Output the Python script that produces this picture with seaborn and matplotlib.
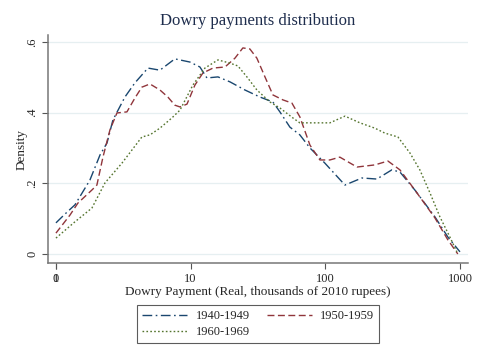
import numpy as np
import pandas as pd
import matplotlib
matplotlib.use("Agg")
import matplotlib.pyplot as plt
import seaborn as sns

# x on log10 scale of dowry payment (thousands of 2010 rupees), y = kernel density
x_40 = [0.000, 0.067, 0.141, 0.252, 0.327, 0.379, 0.423, 0.512, 0.586, 0.683, 0.772,
        0.883, 0.995, 1.069, 1.121, 1.203, 1.292, 1.403, 1.515, 1.611, 1.663, 1.737,
        1.811, 1.886, 1.997, 2.146, 2.272, 2.383, 2.494, 2.554, 2.665, 2.814, 2.910, 3.000]
y_40 = [0.088, 0.113, 0.139, 0.209, 0.280, 0.314, 0.379, 0.444, 0.484, 0.526, 0.520,
        0.552, 0.543, 0.529, 0.498, 0.501, 0.487, 0.464, 0.444, 0.430, 0.402, 0.359,
        0.337, 0.300, 0.257, 0.195, 0.215, 0.212, 0.238, 0.232, 0.181, 0.105, 0.048, 0.006]

x_50 = [0.000, 0.104, 0.163, 0.267, 0.304, 0.349, 0.401, 0.453, 0.527, 0.586, 0.638,
        0.698, 0.772, 0.831, 0.883, 0.921, 0.973, 1.032, 1.091, 1.166, 1.255, 1.329,
        1.388, 1.440, 1.492, 1.552, 1.611, 1.685, 1.752, 1.811, 1.886, 1.960, 2.034,
        2.108, 2.235, 2.368, 2.465, 2.554, 2.665, 2.814, 2.910, 2.984]
y_50 = [0.059, 0.110, 0.144, 0.181, 0.195, 0.274, 0.351, 0.399, 0.402, 0.441, 0.472,
        0.481, 0.464, 0.444, 0.421, 0.416, 0.424, 0.478, 0.512, 0.526, 0.529, 0.554,
        0.583, 0.580, 0.554, 0.501, 0.450, 0.436, 0.427, 0.388, 0.308, 0.266, 0.266,
        0.274, 0.246, 0.252, 0.263, 0.238, 0.181, 0.102, 0.040, 0.000]

x_60 = [0.000, 0.141, 0.267, 0.364, 0.490, 0.638, 0.698, 0.772, 0.861, 0.921, 1.017,
        1.106, 1.203, 1.292, 1.351, 1.418, 1.492, 1.589, 1.663, 1.759, 1.811, 1.923,
        2.034, 2.146, 2.257, 2.368, 2.442, 2.539, 2.628, 2.702, 2.777, 2.851, 2.925, 2.977]
y_60 = [0.045, 0.091, 0.130, 0.201, 0.257, 0.331, 0.337, 0.356, 0.385, 0.407, 0.478,
        0.526, 0.549, 0.540, 0.532, 0.501, 0.464, 0.430, 0.413, 0.385, 0.371, 0.371,
        0.371, 0.390, 0.371, 0.356, 0.342, 0.331, 0.286, 0.238, 0.173, 0.105, 0.048, 0.006]

cohorts = ["1940-1949", "1950-1959", "1960-1969"]
xtick_pos = [0, 1, 2, 3]
xtick_labels = ["1", "10", "100", "1000"]
ytick_pos = [0, 0.2, 0.4, 0.6]
ytick_labels = ["0", ".2", ".4", ".6"]

df = pd.concat([
    pd.DataFrame({"x": x_40, "y": y_40, "cohort": cohorts[0]}),
    pd.DataFrame({"x": x_50, "y": y_50, "cohort": cohorts[1]}),
    pd.DataFrame({"x": x_60, "y": y_60, "cohort": cohorts[2]}),
])

sns.set_style("white")
plt.rcParams["font.family"] = ["Liberation Serif", "DejaVu Serif"]

palette = {cohorts[0]: "#1a476f", cohorts[1]: "#90353b", cohorts[2]: "#55752f"}
dashes = {cohorts[0]: (7, 2.5, 1.2, 2.5), cohorts[1]: (5, 2.5), cohorts[2]: (1.2, 1.6)}

fig = plt.figure(figsize=(4.81, 3.61), dpi=100)
ax = fig.add_axes([0.0998, 0.2715, 0.873, 0.6315])

sns.lineplot(data=df, x="x", y="y", hue="cohort", style="cohort", palette=palette,
             dashes=dashes, linewidth=1.0, ax=ax, legend=False, sort=False)

ax.set_xlim(-0.059, 3.059)
ax.set_ylim(-0.0255, 0.6195)
ax.set_xticks(xtick_pos, xtick_labels)
# the "0" label sits on top of the "1" label, as in the original
ax.xaxis.remove_overlapping_locs = False
ax.set_xticks([0], ["0"], minor=True)
ax.set_yticks(ytick_pos, ytick_labels)
for t in ax.get_yticklabels():
    t.set_rotation(90)
    t.set_va("center")
ax.tick_params(axis="both", which="both", labelsize=9, length=4, width=0.8, color="#555555",
               direction="out", pad=3, left=True, bottom=True)
ax.grid(axis="y", color="#e6eff1", linewidth=0.9)
ax.grid(axis="x", which="both", visible=False)
for s in ["top", "right"]:
    ax.spines[s].set_visible(False)
for s in ["left", "bottom"]:
    ax.spines[s].set_color("#777777")
    ax.spines[s].set_linewidth(1.1)

ax.set_xlabel("Dowry Payment (Real, thousands of 2010 rupees)", fontsize=9.5, labelpad=1)
ax.set_ylabel("Density", fontsize=9.5, labelpad=-1)
ax.set_title("Dowry payments distribution", fontsize=12, color="#1e2d4d", pad=7)

# legend fills column-wise, so order handles to get 1940s, 1950s on the first row
order = [cohorts[0], cohorts[2], cohorts[1]]
handles = [plt.Line2D([], [], color=palette[c], linewidth=1.0, dashes=dashes[c]) for c in order]
leg = fig.legend(handles, order, loc="upper center", bbox_to_anchor=(0.537, 0.172),
                 ncol=2, fontsize=9, frameon=True, fancybox=False, handlelength=3.6,
                 columnspacing=1.4, handletextpad=0.65, borderpad=0.4, labelspacing=0.3)
leg.get_frame().set_edgecolor("#333333")
leg.get_frame().set_linewidth(0.8)

fig.savefig("out.png", dpi=100)
